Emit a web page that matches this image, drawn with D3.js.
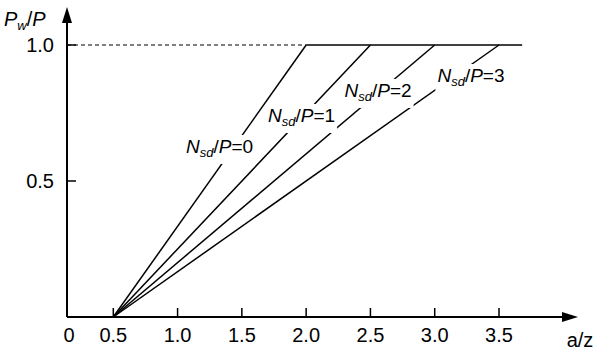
<!DOCTYPE html>
<html><head><meta charset="utf-8">
<script src="https://cdn.jsdelivr.net/npm/d3@7"></script>
<style>body{margin:0;background:#fff}svg{display:block;font-family:"Liberation Sans",Arial,sans-serif}</style>
</head><body><svg id="c" width="600" height="360"></svg>
<script>
const xTicks = [0.5, 1.0, 1.5, 2.0, 2.5, 3.0, 3.5];
const xTickLabels = ["0.5", "1.0", "1.5", "2.0", "2.5", "3.0", "3.5"];
const yTicks = [0.5, 1.0];
const yTickLabels = ["0.5", "1.0"];
const seriesNames = ["0", "1", "2", "3"];
const startX = [0.5, 0.5, 0.5, 0.5];
const endX = [2.0, 2.5, 3.0, 3.5];
const plateauEnd = 3.68;
const labelX = [1.326, 1.964, 2.559, 3.282];
const labelY = [0.603, 0.717, 0.809, 0.864];

const svg = d3.select("#c");
const x = d3.scaleLinear().domain([0.5, 3.5]).range([113.3, 499]);
const y = d3.scaleLinear().domain([0, 1]).range([317, 45]);
const ox = 67, oy = 317;

// dashed reference line
svg.append("line").attr("x1", ox).attr("x2", x(2.0)).attr("y1", y(1)).attr("y2", y(1))
  .attr("stroke", "#000").attr("stroke-width", 1).attr("stroke-dasharray", "4,3");

// series lines
const g = svg.append("g");
seriesNames.forEach((n, i) => {
  g.append("line").attr("x1", x(startX[i])).attr("y1", y(0)).attr("x2", x(endX[i])).attr("y2", y(1))
    .attr("stroke", "#000").attr("stroke-width", 1.5);
});
g.append("line").attr("x1", x(2.0)).attr("x2", x(plateauEnd)).attr("y1", y(1)).attr("y2", y(1))
  .attr("stroke", "#000").attr("stroke-width", 1.5);

// labels with white backgrounds
seriesNames.forEach((n, i) => {
  const lg = svg.append("g");
  const bg = lg.append("rect").attr("fill", "#fff");
  const t = lg.append("text").attr("x", x(labelX[i])).attr("y", y(labelY[i]))
    .attr("text-anchor", "middle").attr("font-size", 19);
  t.append("tspan").attr("font-style", "italic").text("N");
  t.append("tspan").attr("font-style", "italic").attr("font-size", 13).attr("dy", 4).text("sd");
  t.append("tspan").attr("dy", -4).text("/");
  t.append("tspan").attr("font-style", "italic").text("P");
  t.append("tspan").text("=" + n);
  const b = t.node().getBBox();
  bg.attr("x", b.x - 2).attr("y", b.y - 1).attr("width", b.width + 4).attr("height", b.height + 5);
});

// axes
svg.append("line").attr("x1", ox).attr("x2", 565).attr("y1", oy).attr("y2", oy)
  .attr("stroke", "#000").attr("stroke-width", 2);
svg.append("path").attr("d", `M578,${oy} L562,${oy-5} L562,${oy+5} Z`).attr("fill", "#000");
svg.append("line").attr("x1", ox).attr("x2", ox).attr("y1", oy).attr("y2", 20)
  .attr("stroke", "#000").attr("stroke-width", 2);
svg.append("path").attr("d", `M${ox},7 L${ox-5},23 L${ox+5},23 Z`).attr("fill", "#000");

// x ticks
xTicks.forEach((v, i) => {
  svg.append("line").attr("x1", x(v)).attr("x2", x(v)).attr("y1", oy).attr("y2", oy - 9)
    .attr("stroke", "#000").attr("stroke-width", 1.5);
  svg.append("text").attr("x", x(v)).attr("y", 342).attr("text-anchor", "middle")
    .attr("font-size", 20).text(xTickLabels[i]);
});
svg.append("text").attr("x", ox + 2).attr("y", 342).attr("text-anchor", "middle")
  .attr("font-size", 20).text("0");
svg.append("text").attr("x", 580).attr("y", 347).attr("text-anchor", "middle")
  .attr("font-size", 20).text("a/z");

// y ticks
yTicks.forEach((v, i) => {
  svg.append("line").attr("x1", ox).attr("x2", ox + 9).attr("y1", y(v)).attr("y2", y(v))
    .attr("stroke", "#000").attr("stroke-width", 1.5);
  svg.append("text").attr("x", 54).attr("y", y(v) + 7).attr("text-anchor", "end")
    .attr("font-size", 20).text(yTickLabels[i]);
});
const yl = svg.append("text").attr("x", 4).attr("y", 26).attr("font-size", 20);
yl.append("tspan").attr("font-style", "italic").text("P");
yl.append("tspan").attr("font-style", "italic").attr("font-size", 13).attr("dy", 4).text("w");
yl.append("tspan").attr("dy", -4).text("/");
yl.append("tspan").attr("font-style", "italic").text("P");
</script></body></html>
